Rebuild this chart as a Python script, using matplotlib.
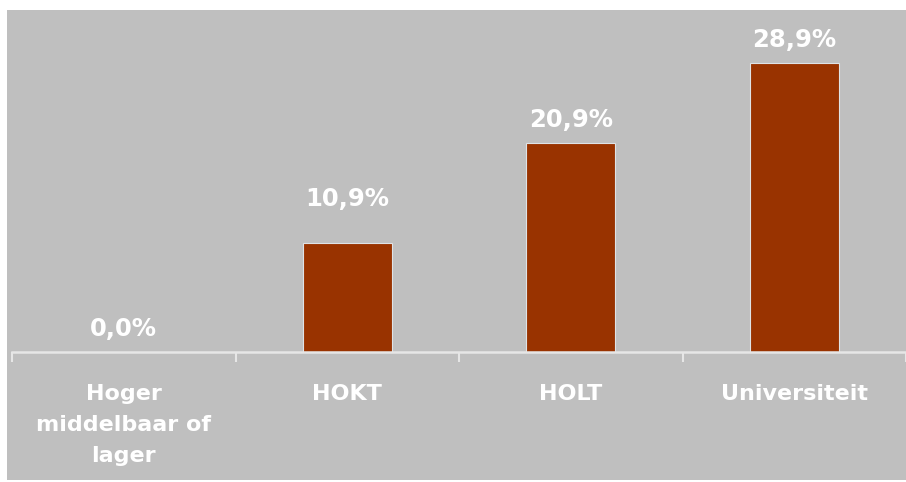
import matplotlib
matplotlib.use("Agg")
import matplotlib.pyplot as plt
from matplotlib.patches import Rectangle
import numpy as np

categories = ["Hoger\nmiddelbaar of\nlager", "HOKT", "HOLT", "Universiteit"]
values = [0.0, 10.9, 20.9, 28.9]

BG = "#bfbfbf"
BAR = "#993300"
LINE = "#e6e6e6"

W, H = 906, 482
fig = plt.figure(figsize=(W / 100, H / 100), dpi=100, facecolor="white")

# grey chart area
fig.patches.append(Rectangle((7 / W, 2 / H), (W - 7) / W, (H - 12) / H,
                             transform=fig.transFigure, facecolor=BG,
                             edgecolor="none", zorder=-10))

base_px = 352
top_px = 10
ax = fig.add_axes([12 / W, 1 - base_px / H, (W - 12) / W, (base_px - top_px) / H])
ax.set_facecolor("none")
ax.set_zorder(5)

x = np.arange(len(categories))
ax.bar(x, values, width=0.4, color=BAR, edgecolor="#dfe3e6", linewidth=0.8, zorder=2)

ax.set_xlim(-0.5, len(categories) - 0.5)
ax.set_ylim(0, (base_px - top_px) / 10.0)

for s in ["top", "right", "left"]:
    ax.spines[s].set_visible(False)
ax.spines["bottom"].set_color(LINE)
ax.spines["bottom"].set_linewidth(1.8)
ax.set_yticks([])

ax.set_xticks(x)
ax.set_xticklabels(categories, color="white", fontsize=16, fontweight="bold",
                   linespacing=1.7)
ax.tick_params(axis="x", which="major", length=0, pad=23)
ax.set_xticks(np.arange(-0.5, len(categories), 1.0), minor=True)
ax.tick_params(axis="x", which="minor", length=7, width=1.5, color=LINE,
               direction="out")

# value labels above the bars (in points above the bar top)
offsets = [8, 23, 8, 8]
for xi, v, off in zip(x, values, offsets):
    ax.annotate(f"{v:.1f}%".replace(".", ","), (xi, v), xytext=(0, off),
                textcoords="offset points", ha="center", va="bottom",
                color="white", fontsize=17.5, fontweight="bold", zorder=3)

fig.savefig("out.png", dpi=100, facecolor="white")
